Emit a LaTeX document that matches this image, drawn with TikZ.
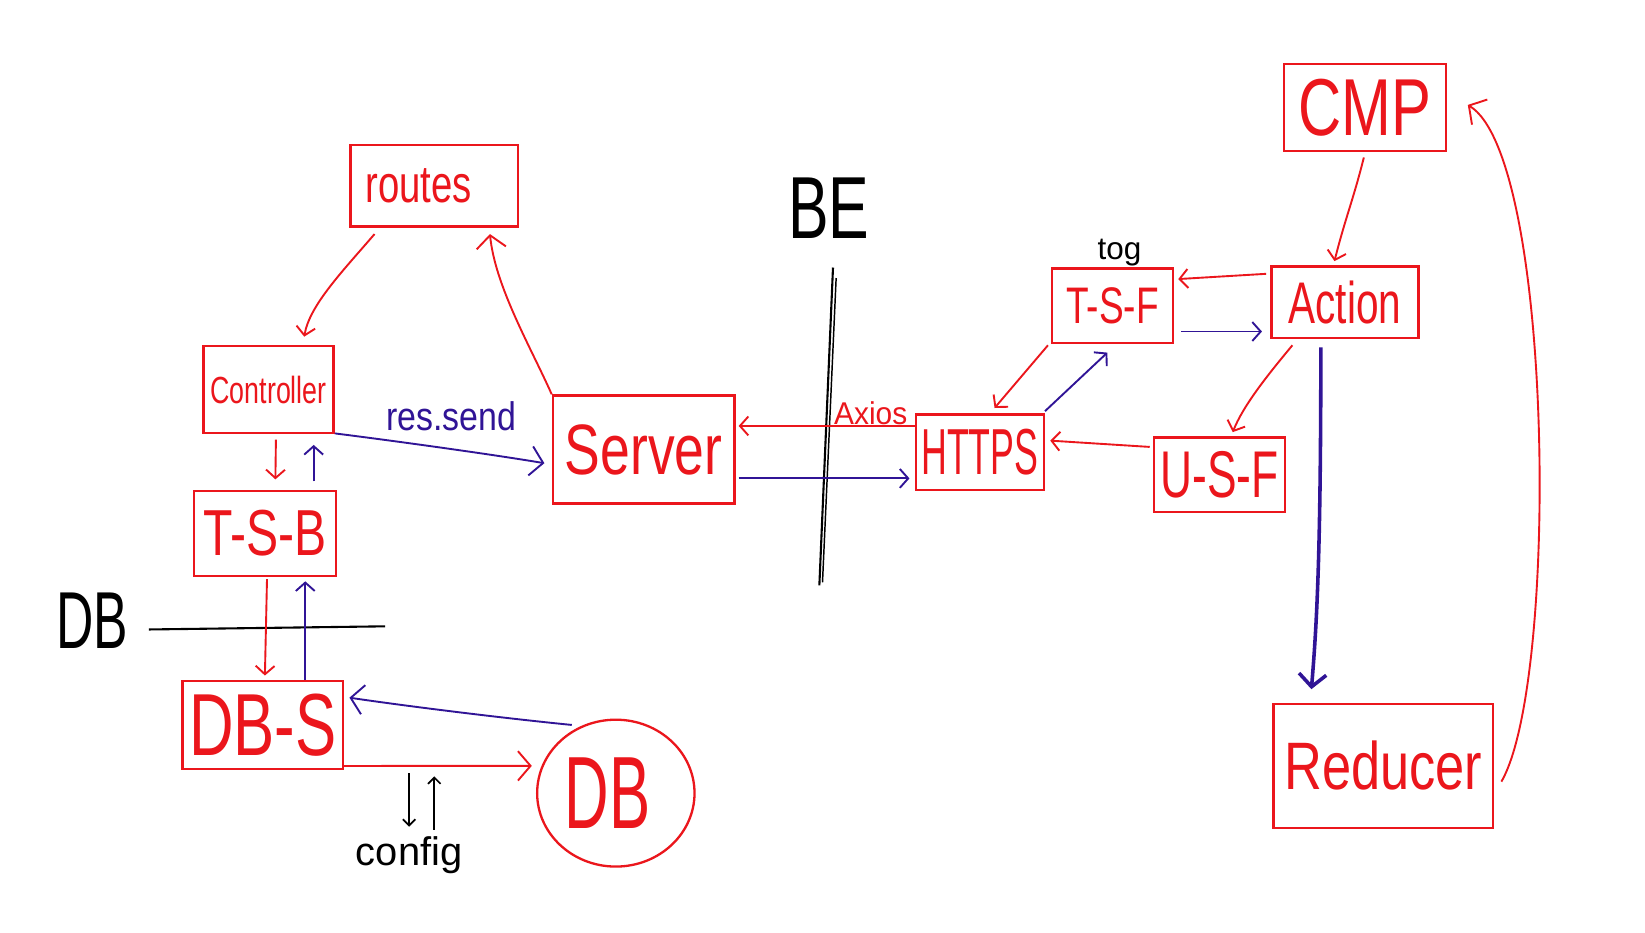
\documentclass[tikz,border=0pt]{standalone}
\usepackage{fontspec}
\usepackage{graphicx}
\setmainfont{Liberation Sans}
\usetikzlibrary{arrows.meta,shapes.geometric}
\definecolor{pred}{RGB}{235,22,28}
\definecolor{pblue}{RGB}{48,20,150}
\newcommand\hwt[3]{\scalebox{#1}[1]{\fontsize{#2}{#2}\selectfont #3}}
\begin{document}
\begin{tikzpicture}[x=1pt,y=-1pt,
  box/.style={draw=pred,line width=2.2pt,text=pred,inner sep=0pt},
  rline/.style={draw=pred,line width=1.8pt},
  bline/.style={draw=pblue,line width=1.8pt},
  kline/.style={draw=black,line width=1.6pt},
  hwtip/.style={-{Straight Barb[length=8pt,width=18pt]}},
  hwbig/.style={-{Straight Barb[length=12pt,width=28pt]}}]
\fill[white] (0,0) rectangle (1568,889);
\path[use as bounding box] (0,0) rectangle (1568,889);

% boxes
\node[box,minimum width=160pt,minimum height=78pt] (routes) at (414,177) {\hwt{0.73}{50}{routes}\hspace*{30pt}};
\node[box,minimum width=124pt,minimum height=83pt] (ctrl) at (256,371.5) {\hwt{0.71}{36}{Controller}};
\node[box,minimum width=173pt,minimum height=103pt] (server) at (613.5,428.5) {\hwt{0.75}{68}{Server}};
\node[box,minimum width=135pt,minimum height=81pt] (tsb) at (252.5,508.5) {\hwt{0.74}{62}{T-S-B}};
\node[box,minimum width=153pt,minimum height=84pt] (dbs) at (250.5,691) {\hwt{0.7}{84}{DB-S}};
\node[ellipse,draw=pred,line width=2.2pt,text=pred,inner sep=0pt,minimum width=150pt,minimum height=140pt] (db) at (587,756) {\hwt{0.6}{98}{DB}\hspace*{16pt}};
\node[box,minimum width=122pt,minimum height=72pt] (https) at (934,431) {\hwt{0.55}{62}{HTTPS}};
\node[box,minimum width=115pt,minimum height=71pt] (tsf) at (1060.5,291.5) {\hwt{0.72}{49}{T-S-F}};
\node[box,minimum width=140pt,minimum height=68pt] (action) at (1282,288) {\hwt{0.69}{56}{Action}};
\node[box,minimum width=125pt,minimum height=71pt] (usf) at (1162.5,452.5) {\hwt{0.67}{63}{U-S-F}};
\node[box,minimum width=154pt,minimum height=83pt] (cmp) at (1301,102.5) {\hwt{0.74}{77}{CMP}};
\node[box,minimum width=209pt,minimum height=118pt] (reducer) at (1318.5,730) {\hwt{0.78}{64}{Reducer}};

% labels
\node (tog) at (1067,241) {\hwt{1}{30}{tog}};
\node (be) at (790,198) {\hwt{0.69}{84}{BE}};
\node (dblabel) at (88,592) {\hwt{0.64}{77}{DB}};
\node (config) at (390,815) {\hwt{1}{38}{config}};
\node[text=pblue] (ressend) at (430,397) {\hwt{0.85}{38}{res.send}};
\node[text=pred] (axios) at (830,394) {\hwt{0.95}{30}{Axios}};

% divider lines
\draw[line width=2pt] ([shift={(4,57)}]be.center) -- (781,558);
\draw[line width=1.4pt] ([shift={(7,67)}]be.center) -- (784,555);
\draw[line width=2pt] ([shift={(54,8)}]dblabel.center) -- (367,597);

% connectors
\draw[rline,hwtip] ([shift={(-57,6)}]routes.south) .. controls +(-30,35) and +(5,-30) .. ([shift={(34,-8)}]ctrl.north);
\draw[rline,hwbig] (server.north west) .. controls +(-20,-45) and +(5,50) .. ([shift={(53,6)}]routes.south);
\draw[bline,hwbig] ([shift={(0,-1)}]ctrl.south east) .. controls +(40,5) and +(-60,-10) .. ([shift={(-7,13)}]server.west);
\draw[rline,hwtip] ([shift={(7,5)}]ctrl.south) -- ([shift={(10,-10)}]tsb.north);
\draw[bline,hwtip] ([shift={(46.5,-8)}]tsb.north) -- ([shift={(43,10)}]ctrl.south);
\draw[rline,hwtip] ([shift={(2,2)}]tsb.south) -- ([shift={(2,-4)}]dbs.north);
\draw[bline,hwtip] ([shift={(40.5,0)}]dbs.north) -- ([shift={(38.5,4)}]tsb.south);
\draw[bline,hwbig] ([shift={(-42,-65)}]db.center) .. controls +(-80,-8) and +(40,6) .. ([shift={(5,-26)}]dbs.east);
\draw[rline,hwbig] ([shift={(0,-4)}]dbs.south east) -- ([shift={(-4,-26)}]db.west);

\coordinate (cfa) at (390,737);
\coordinate (cfb) at (390,788);
\coordinate (cfc) at (414,791);
\coordinate (cfd) at (414,740);
\draw[kline,-{Straight Barb[length=6pt,width=12pt]}] (cfa) -- (cfb);
\draw[kline,-{Straight Barb[length=6pt,width=12pt]}] (cfc) -- (cfd);

\draw[rline,hwtip] ([shift={(0,-25)}]https.west) -- ([shift={(3,-22.5)}]server.east);
\draw[bline,hwtip] ([shift={(3,27.5)}]server.east) -- ([shift={(-5,25)}]https.west);
\draw[rline,hwtip] ([shift={(-3,1)}]tsf.south west) -- ([shift={(14,-5)}]https.north);
\draw[bline,hwtip] ([shift={(0,-2)}]https.north east) -- ([shift={(-5,8)}]tsf.south);
\draw[rline,hwtip] ([shift={(-4,-27)}]action.west) -- ([shift={(4,-25.5)}]tsf.east);
\draw[bline,hwtip] ([shift={(7,24.5)}]tsf.east) -- ([shift={(-8,28)}]action.west);
\draw[rline,hwtip] ([shift={(21,6)}]action.south west) .. controls +(-25,30) and +(10,-25) .. ([shift={(12.5,-4)}]usf.north);
\draw[rline,hwtip] ([shift={(-3,-26.5)}]usf.west) -- ([shift={(5,-11)}]https.east);
\draw[draw=pblue,line width=3.4pt,-{Straight Barb[length=12pt,width=26pt]}] ([shift={(-23,8)}]action.south) .. controls +(0,200) and +(5,-60) .. ([shift={(-68.5,-13)}]reducer.north);
\draw[rline,hwtip] ([shift={(-1,5)}]cmp.south) .. controls +(-10,40) and +(10,-40) .. ([shift={(-10,-4)}]action.north);
\draw[rline,hwbig] ([shift={(7,15)}]reducer.east) .. controls +(55,-95) and +(82,50) .. ([shift={(20,-2.5)}]cmp.east);
\end{tikzpicture}
\end{document}
